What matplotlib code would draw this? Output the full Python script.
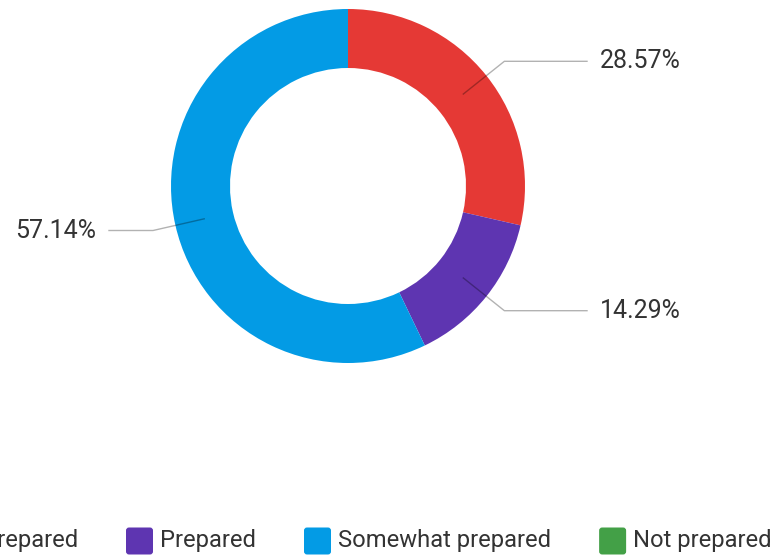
import numpy as np
import matplotlib
matplotlib.use('Agg')
import matplotlib.pyplot as plt
from matplotlib.patches import FancyBboxPatch

# answers (respondent counts)
categories = ['Very prepared', 'Prepared', 'Somewhat prepared', 'Not prepared']
counts = [2, 1, 4, 0]
colors = ['#E53935', '#5E35B1', '#039BE5', '#43A047']

plt.rcParams['font.family'] = ['Roboto', 'DejaVu Sans']
txtcolor = '#333333'
pct_size = 18
leg_size = 17.1

W, H = 775, 556
fig = plt.figure(figsize=(W / 100, H / 100), dpi=100)
ax = fig.add_axes([0, 0, 1, 1])

cx, cy = 348, H - 186
R = 177
ring = 59

wedges, _ = ax.pie(counts, colors=colors, startangle=90, counterclock=False,
                   radius=R, center=(cx, cy), wedgeprops=dict(width=ring, linewidth=0),
                   frame=True)
ax.set_xlim(0, W)
ax.set_ylim(0, H)
ax.set_aspect('equal')
ax.axis('off')

total = float(sum(counts))
for w, c in zip(wedges, counts):
    if c == 0:
        continue
    ang = np.deg2rad((w.theta1 + w.theta2) / 2)
    r0 = R - ring / 2
    x0, y0 = cx + r0 * np.cos(ang), cy + r0 * np.sin(ang)
    x1, y1 = cx + 200 * np.cos(ang), cy + 200 * np.sin(ang)
    side = 1 if np.cos(ang) >= 0 else -1
    x2 = cx + side * 239
    ax.plot([x0, x1, x2], [y0, y1, y1], color='black', alpha=0.3, lw=1)
    ax.text(x2 + side * 13, y1, '%.2f%%' % (c / total * 100),
            ha='left' if side > 0 else 'right', va='center',
            fontsize=pct_size, color=txtcolor)

# legend along the bottom, first entry runs off the left edge
fig.canvas.draw()
renderer = fig.canvas.get_renderer()
ly = H - 541
sq = 27
gap = 48
pos = None
for i, (name, col) in enumerate(zip(categories, colors)):
    if i == 0:
        t = ax.text(78, ly, name, ha='right', va='center', fontsize=leg_size, color=txtcolor)
        bb = t.get_window_extent(renderer)
        sx = bb.x0 - 34
    else:
        sx = pos + gap
        t = ax.text(sx + 34, ly, name, ha='left', va='center', fontsize=leg_size, color=txtcolor)
        bb = t.get_window_extent(renderer)
    ax.add_patch(FancyBboxPatch((sx + 3, ly - sq / 2 + 3), sq - 6, sq - 6,
                                boxstyle='round,pad=3', fc=col, ec='none'))
    pos = bb.x1

fig.savefig('out.png', dpi=100)
